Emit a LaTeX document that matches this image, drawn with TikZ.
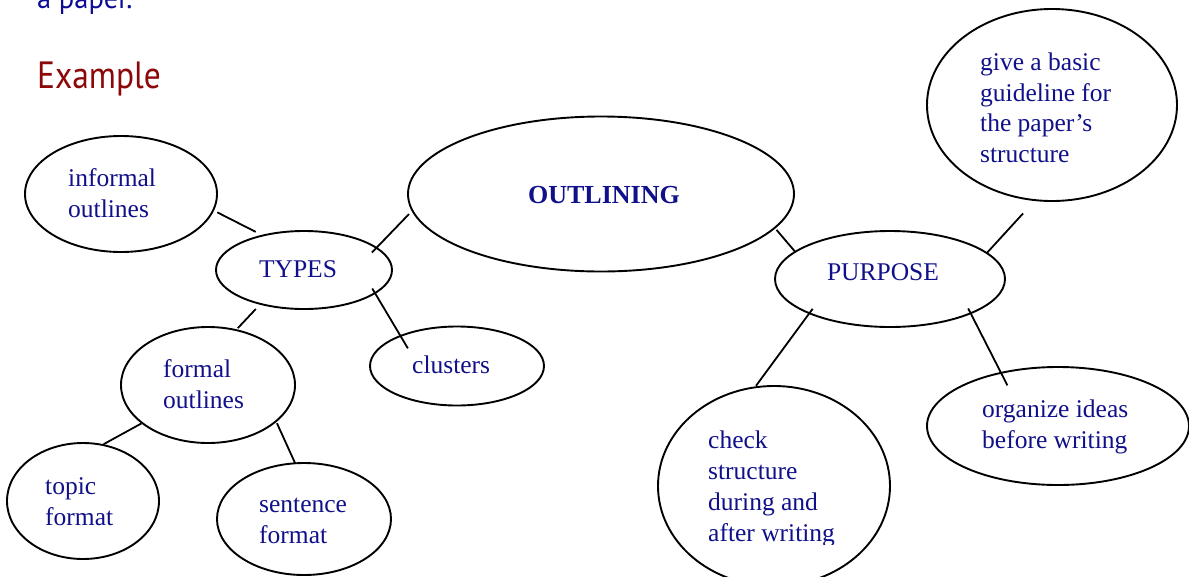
\documentclass[tikz,border=0pt]{standalone}
\usepackage{fontspec}
\usepackage{graphicx}
\setmainfont{Liberation Serif}
\newfontfamily\headfont{PT Sans}
\usetikzlibrary{shapes.geometric}
\definecolor{txtblue}{RGB}{16,16,138}
\definecolor{headblue}{RGB}{12,12,150}
\definecolor{headred}{RGB}{140,8,8}

\begin{document}
\begin{tikzpicture}[x=1pt,y=-1pt,
  bubble/.style={draw,ellipse,line width=1.9pt,inner sep=0pt,outer sep=0pt},
  bubtext/.style={text=txtblue,inner sep=0pt,align=left,anchor=base west,
    font=\fontsize{25.5}{31}\selectfont},
  link/.style={line width=1.8pt}]
\useasboundingbox (0,0) rectangle (1189,576);

\node[text=headblue,anchor=base west,inner sep=0pt,font=\headfont\fontsize{30}{36}\selectfont] (paper) at (37,8) {\scalebox{0.95}[1]{a paper.}};
\node[text=headred,anchor=base west,inner sep=0pt,font=\headfont\fontsize{38}{44}\selectfont] (example) at (37,88) {\scalebox{0.88}[1]{Example}};

\node[bubble,minimum width=192,minimum height=116] (informal) at (121,194) {};
\node[bubble,minimum width=176,minimum height=78] (types) at (304,270) {};
\node[bubble,minimum width=386,minimum height=155] (outlining) at (601,194) {};
\node[bubble,minimum width=174,minimum height=79] (clusters) at (457,366) {};
\node[bubble,minimum width=174,minimum height=116] (formal) at (208,385) {};
\node[bubble,minimum width=152,minimum height=116] (topic) at (83,501) {};
\node[bubble,minimum width=174,minimum height=112] (sentence) at (304,519) {};
\node[bubble,minimum width=230,minimum height=96] (purpose) at (890,279) {};
\node[bubble,minimum width=250,minimum height=192] (guideline) at (1052,105) {};
\node[bubble,minimum width=232,minimum height=200] (check) at (774,486) {};
\node[bubble,minimum width=262,minimum height=118] (organize) at (1058,426) {};

\node[bubtext] (informal-t) at (68,217) {informal\\outlines};
\node[bubtext,anchor=base] (types-t) at (298,277) {TYPES};
\node[bubtext,anchor=base,font=\fontsize{26}{31}\selectfont\bfseries] (outlining-t) at (604,203) {OUTLINING};
\node[bubtext] (clusters-t) at (412,373) {clusters};
\node[bubtext] (formal-t) at (163,408) {formal\\outlines};
\node[bubtext] (topic-t) at (45,525) {topic\\format};
\node[bubtext] (sentence-t) at (259,543) {sentence\\format};
\node[bubtext,anchor=base] (purpose-t) at (883,280) {PURPOSE};
\node[bubtext,font=\fontsize{25.5}{30.5}\selectfont] (guideline-t) at (980,162) {give a basic\\guideline for\\the paper’s\\structure};
\begin{scope}
\clip (650,380) rectangle (900,544);
\node[bubtext] (check-t) at (708,541) {check\\structure\\during and\\after writing};
\end{scope}
\node[bubtext] (organize-t) at (982,448) {organize ideas\\before writing};

\draw[link,shorten <=4.6pt,shorten >=8pt] (informal.-10.5) -- (types.140);
\draw[link,shorten <=-6.5pt,shorten >=5pt] (types.17.5) -- (outlining.185);
\draw[link,shorten <=-5.3pt,shorten >=-14.4pt] (types.-18.5) -- (clusters.152);
\draw[link,shorten <=7pt,shorten >=2.7pt] (types.218.3) -- (formal.63.8);
\draw[link,shorten <=1pt,shorten >=1.6pt] (formal.210.6) -- (topic.71.7);
\draw[link,shorten <=2.3pt] (formal.-28.9) -- (sentence.99.1);
\draw[link,shorten <=2.7pt] (outlining.-11.5) -- (purpose.164.7);
\draw[link,shorten >=18pt] (purpose.15.9) -- (guideline.260.9);
\draw[link,shorten <=-5.5pt,shorten >=2pt] (purpose.203.2) -- (check.101.6);
\draw[link,shorten <=-5.4pt,shorten >=-14pt] (purpose.-23.7) -- (organize.137.4);
\end{tikzpicture}
\end{document}
